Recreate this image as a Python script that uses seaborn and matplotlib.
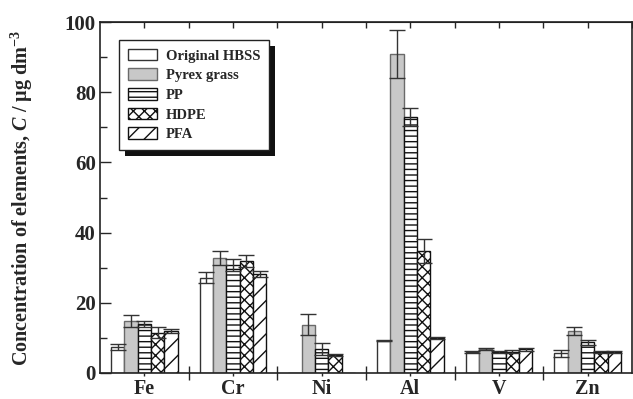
import matplotlib
matplotlib.use("Agg")
import matplotlib.pyplot as plt
from matplotlib.patches import Rectangle
from matplotlib.transforms import IdentityTransform
import numpy as np
import pandas as pd
import seaborn as sns

ELEMENTS = ["Fe", "Cr", "Ni", "Al", "V", "Zn"]
MATERIALS = ["Original HBSS", "Pyrex grass", "PP", "HDPE", "PFA"]

# mean concentrations (ug dm-3), NaN = not shown
original = [7.5, 27.2, np.nan, 9.2, 6.0, 5.6]
pyrex = [14.8, 32.8, 13.8, 90.9, 6.8, 11.9]
pp = [13.9, 30.8, 6.8, 72.9, 6.0, 8.8]
hdpe = [11.5, 31.8, 5.1, 34.8, 6.1, 6.0]
pfa = [12.0, 28.3, np.nan, 10.0, 6.7, 6.0]

# error bar half-widths
original_err = [0.9, 1.6, np.nan, 0.2, 0.2, 0.9]
pyrex_err = [1.6, 2.1, 3.1, 6.9, 0.2, 1.2]
pp_err = [0.9, 1.8, 1.7, 2.6, 0.2, 0.7]
hdpe_err = [1.6, 1.7, 0.3, 3.4, 0.4, 0.3]
pfa_err = [0.6, 0.9, np.nan, 0.3, 0.3, 0.4]

values = [original, pyrex, pp, hdpe, pfa]
errors = [original_err, pyrex_err, pp_err, hdpe_err, pfa_err]

FACE = ["white", "#c8c8c8", "white", "white", "white"]
EDGE = ["#333333", "#6a6a6a", "#111111", "#111111", "#111111"]
HATCH = [None, None, "---", "xxx", "//"]

rows = []
for mat, vals in zip(MATERIALS, values):
    for el, v in zip(ELEMENTS, vals):
        rows.append({"element": el, "material": mat, "value": 0.0 if np.isnan(v) else v})
df = pd.DataFrame(rows)

sns.set_style("ticks")
plt.rcParams["font.family"] = ["Liberation Serif", "DejaVu Serif"]
plt.rcParams["font.weight"] = "bold"
plt.rcParams["mathtext.fontset"] = "custom"
plt.rcParams["mathtext.rm"] = "Liberation Serif:bold"
plt.rcParams["mathtext.bf"] = "Liberation Serif:bold"
plt.rcParams["mathtext.it"] = "Liberation Serif:italic:bold"
plt.rcParams["hatch.linewidth"] = 1.0
plt.rcParams["hatch.color"] = "#111111"

fig = plt.figure(figsize=(6.33, 3.99), dpi=100)
ax = fig.add_axes([100 / 633, 1 - 373 / 399, 532 / 633, 351 / 399])

sns.barplot(data=df, x="element", y="value", hue="material", order=ELEMENTS,
            hue_order=MATERIALS, width=0.75, errorbar=None, legend=False,
            palette=["white"] * 5, ax=ax)

bar_containers = list(ax.containers)
for j, cont in enumerate(bar_containers):
    for k, bar in enumerate(cont.patches):
        bar.set_facecolor(FACE[j])
        bar.set_edgecolor(EDGE[j])
        bar.set_linewidth(1.0)
        if HATCH[j]:
            bar.set_hatch(HATCH[j])
        v = values[j][k]
        e = errors[j][k]
        if not np.isnan(v):
            xc = bar.get_x() + bar.get_width() / 2
            ax.errorbar(xc, v, yerr=e, color="#333333", lw=1.0,
                        capsize=5.5, capthick=1.0, zorder=3)

ax.set_xlim(-0.5, 5.5)
ax.set_ylim(0, 100)
ax.set_yticks(np.arange(0, 101, 20))
ax.set_yticks(np.arange(0, 101, 10), minor=True)
ax.tick_params(axis="y", which="major", direction="in", length=8, width=1,
               labelsize=15, pad=3)
ax.tick_params(axis="y", which="minor", direction="in", length=5, width=1)

ax.set_xticks(np.arange(0.5, 5, 1))
ax.set_xticklabels([])
ax.set_xticks(np.arange(6), ELEMENTS, minor=True)
ax.tick_params(axis="x", which="major", direction="inout", length=10, width=1)
ax.tick_params(axis="x", which="minor", direction="out", length=2, width=1,
               labelsize=14.5, pad=2)
ax.set_xlabel("")

top = ax.secondary_xaxis("top")
top.set_xticks(np.arange(0, 5.6, 0.5))
top.set_xticklabels([])
top.tick_params(direction="in", length=4, width=1)

for sp in ax.spines.values():
    sp.set_linewidth(1.2)
    sp.set_color("#222222")

ax.set_ylabel(r"Concentration of elements, $\mathit{C}$ / μg dm$^{-3}$",
              fontsize=14.5, fontweight="bold")
ax.yaxis.set_label_coords(-0.122, 0.5)

leg = ax.legend(bar_containers, MATERIALS, loc="upper left",
                bbox_to_anchor=(0.036, 0.949), borderaxespad=0,
                fancybox=False, framealpha=1, edgecolor="#222222",
                prop={"family": "Liberation Serif", "weight": "bold", "size": 10.5},
                handlelength=2.0, handleheight=0.85, handletextpad=0.6,
                labelspacing=0.4, borderpad=0.6)
leg.get_frame().set_linewidth(1.0)

fig.canvas.draw()
bb = leg.get_frame().get_window_extent(fig.canvas.get_renderer())
shadow = Rectangle((bb.x0 + 6, bb.y0 - 6), bb.width, bb.height,
                   transform=IdentityTransform(), facecolor="#111111",
                   edgecolor="none", zorder=leg.get_zorder() - 0.1, clip_on=False)
ax.add_patch(shadow)

fig.savefig("out.png", dpi=100)
